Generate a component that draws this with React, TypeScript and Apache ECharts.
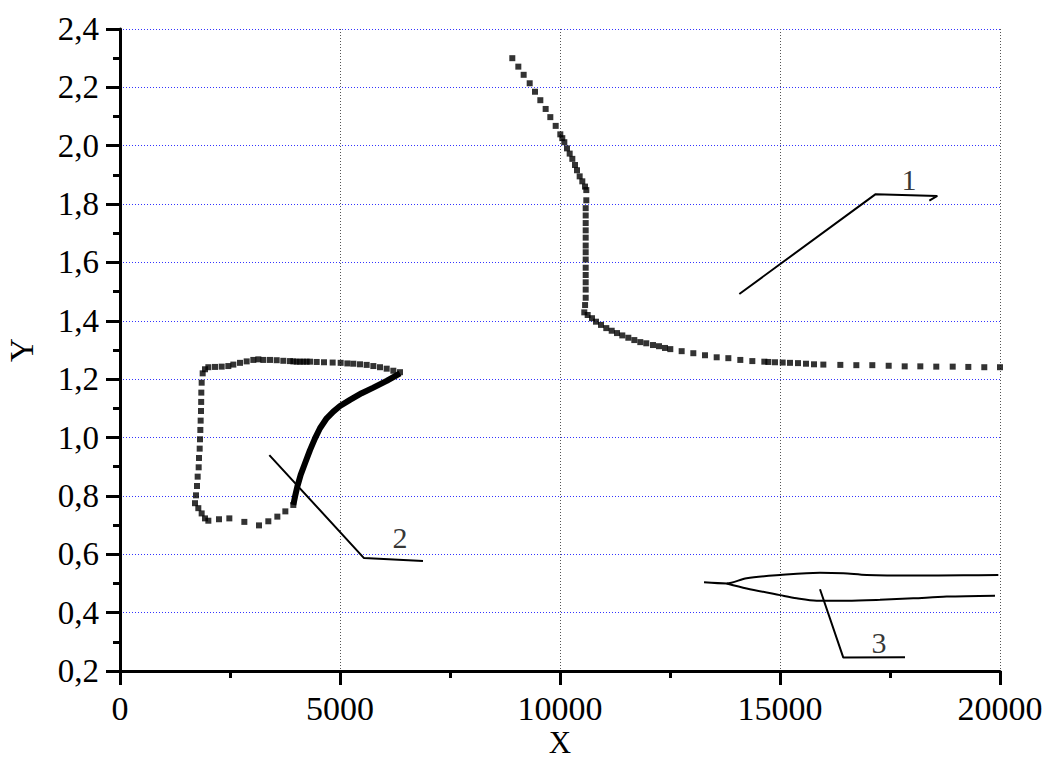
import React, { useEffect, useRef } from "react";
import * as echarts from "echarts";

// Curve 1 (dotted squares)
const curve1X = [8916, 9053, 9174, 9311, 9432, 9553, 9674, 9780, 9902, 10007, 10052, 10098, 10159, 10220, 10280, 10341, 10386, 10447, 10507, 10568, 10598, 10598, 10584, 10584, 10584, 10584, 10584, 10584, 10584, 10584, 10584, 10584, 10584, 10584, 10584, 10570, 10552, 10629, 10727, 10818, 10932, 11052, 11175, 11295, 11416, 11553, 11689, 11825, 11961, 12114, 12250, 12386, 12507, 12765, 13030, 13295, 13561, 13826, 14098, 14371, 14644, 14735, 14886, 15061, 15227, 15409, 15591, 15773, 15985, 16371, 16735, 17098, 17470, 17834, 18189, 18552, 18925, 19280, 19643, 20000];
const curve1Y = [2.30, 2.271, 2.243, 2.214, 2.185, 2.156, 2.126, 2.098, 2.068, 2.039, 2.026, 2.012, 1.991, 1.973, 1.955, 1.934, 1.916, 1.895, 1.878, 1.860, 1.848, 1.813, 1.786, 1.761, 1.735, 1.710, 1.685, 1.658, 1.635, 1.610, 1.582, 1.557, 1.532, 1.507, 1.479, 1.454, 1.429, 1.420, 1.409, 1.397, 1.386, 1.375, 1.366, 1.358, 1.350, 1.342, 1.334, 1.327, 1.323, 1.317, 1.313, 1.307, 1.303, 1.296, 1.289, 1.282, 1.275, 1.272, 1.266, 1.262, 1.260, 1.259, 1.258, 1.257, 1.256, 1.255, 1.253, 1.251, 1.250, 1.249, 1.248, 1.248, 1.246, 1.244, 1.244, 1.243, 1.243, 1.242, 1.241, 1.241];

// Curve 2 (dotted loop)
const curve2X = [6364, 6212, 6061, 5909, 5758, 5606, 5455, 5303, 5167, 5015, 4833, 4636, 4470, 4318, 4240, 4167, 4090, 4015, 3940, 3864, 3712, 3561, 3409, 3258, 3144, 3030, 2879, 2727, 2576, 2462, 2311, 2159, 2008, 1932, 1879, 1856, 1848, 1845, 1841, 1833, 1826, 1818, 1811, 1795, 1788, 1765, 1750, 1727, 1705, 1780, 1856, 1932, 2008, 2250, 2485, 2826, 3159, 3371, 3576, 3758, 3939];
const curve2Y = [1.224, 1.229, 1.236, 1.241, 1.245, 1.249, 1.251, 1.253, 1.254, 1.256, 1.257, 1.258, 1.259, 1.260, 1.260, 1.260, 1.260, 1.260, 1.261, 1.262, 1.263, 1.265, 1.266, 1.266, 1.268, 1.266, 1.261, 1.256, 1.250, 1.245, 1.243, 1.242, 1.241, 1.234, 1.220, 1.188, 1.154, 1.122, 1.091, 1.058, 1.026, 0.994, 0.962, 0.930, 0.898, 0.866, 0.834, 0.802, 0.775, 0.758, 0.740, 0.723, 0.715, 0.720, 0.723, 0.711, 0.699, 0.713, 0.729, 0.747, 0.769];
// Curve 2 (dense, thick part)
const curve2bX = [3939, 3977, 4030, 4106, 4205, 4318, 4432, 4545, 4697, 4848, 5000, 5227, 5492, 5758, 6061, 6364];
const curve2bY = [0.769, 0.797, 0.832, 0.872, 0.912, 0.957, 0.997, 1.032, 1.066, 1.089, 1.108, 1.129, 1.152, 1.171, 1.194, 1.220];

// Curve 3 (two thin lines)
const curve3UpperX = [13273, 13788, 14242, 15000, 15909, 16439, 16970, 18030, 19167, 19962];
const curve3UpperY = [0.504, 0.500, 0.518, 0.529, 0.537, 0.535, 0.529, 0.527, 0.528, 0.529];
const curve3LowerX = [13788, 14242, 15000, 15379, 15833, 16515, 17273, 18030, 18788, 19886];
const curve3LowerY = [0.500, 0.483, 0.460, 0.449, 0.441, 0.441, 0.444, 0.449, 0.455, 0.458];

// Leader lines and labels
const leader1X = [14076, 17174, 18575, 18394];
const leader1Y = [1.492, 1.834, 1.828, 1.812];
const leader2X = [3394, 5545, 6886];
const leader2Y = [0.940, 0.587, 0.577];
const leader3X = [15909, 16439, 17841];
const leader3Y = [0.480, 0.246, 0.247];
const labelNames = ["1", "2", "3"];
const labelX = [17932, 6364, 17250];
const labelY = [1.883, 0.659, 0.299];

const xTicks = { min: 0, max: 20000, interval: 5000 };
const yTicks = { min: 0.2, max: 2.4, interval: 0.2 };

const zip = (xs: number[], ys: number[]) => xs.map((x, i) => [x, ys[i]]);

const FONT = "'Liberation Serif', 'Times New Roman', serif";

export default function App() {
  const ref = useRef<HTMLDivElement>(null);
  useEffect(() => {
    if (!ref.current) return;
    const chart = echarts.init(ref.current, undefined, { renderer: "svg" });
    const lineSeries = (data: number[][], width: number) => ({
      type: "line",
      data,
      showSymbol: false,
      symbol: "none",
      lineStyle: { color: "#000", width },
      silent: true,
      z: 3,
    });
    chart.setOption({
      animation: false,
      backgroundColor: "#fff",
      grid: { left: 120, top: 29, right: 46, bottom: 90, containLabel: false, outerBoundsMode: "none" },
      xAxis: {
        type: "value",
        min: xTicks.min,
        max: xTicks.max,
        interval: xTicks.interval,
        name: "X",
        nameLocation: "middle",
        nameGap: 56,
        nameMoveOverlap: false,
        nameTextStyle: { fontFamily: FONT, fontSize: 31, color: "#000", lineHeight: 31 },
        axisLine: { onZero: false, lineStyle: { color: "#000", width: 3 } },
        axisTick: { show: true, inside: false, length: 14, lineStyle: { color: "#000", width: 3 } },
        minorTick: { show: true, splitNumber: 2, length: 7, lineStyle: { color: "#000", width: 3 } },
        axisLabel: {
          fontFamily: FONT,
          fontSize: 34,
          color: "#000",
          margin: 20,
          formatter: (v: number) => String(v),
        },
        splitLine: { show: true, lineStyle: { color: "#555", width: 1, type: [1, 2] } },
      },
      yAxis: {
        type: "value",
        min: yTicks.min,
        max: yTicks.max,
        interval: yTicks.interval,
        name: "Y",
        nameLocation: "middle",
        nameGap: 82,
        nameMoveOverlap: false,
        nameRotate: 90,
        nameTextStyle: { fontFamily: FONT, fontSize: 33, color: "#000" },
        axisLine: { show: true, onZero: false, lineStyle: { color: "#000", width: 3 } },
        axisTick: { show: true, inside: false, length: 14, lineStyle: { color: "#000", width: 3 } },
        minorTick: { show: true, splitNumber: 2, length: 7, lineStyle: { color: "#000", width: 3 } },
        axisLabel: {
          fontFamily: FONT,
          fontSize: 33,
          color: "#000",
          margin: 21,
          formatter: (v: number) => v.toFixed(1).replace(".", ","),
        },
        splitLine: { show: true, lineStyle: { color: "#3333ff", width: 1, type: [1, 2] } },
      },
      series: [
        {
          type: "scatter",
          data: zip(curve1X, curve1Y),
          symbol: "rect",
          symbolSize: 6,
          itemStyle: { color: "#000" },
          silent: true,
          z: 3,
        },
        {
          type: "scatter",
          data: zip(curve2X, curve2Y),
          symbol: "rect",
          symbolSize: 6,
          itemStyle: { color: "#000" },
          silent: true,
          z: 3,
        },
        lineSeries(zip(curve2bX, curve2bY), 6),
        { ...lineSeries(zip(curve3UpperX, curve3UpperY), 2), smooth: 0.3 },
        { ...lineSeries(zip(curve3LowerX, curve3LowerY), 2), smooth: 0.3 },
        lineSeries(zip(leader1X, leader1Y), 2),
        lineSeries(zip(leader2X, leader2Y), 2),
        lineSeries(zip(leader3X, leader3Y), 2),
        {
          type: "scatter",
          data: labelNames.map((n, i) => ({ name: n, value: [labelX[i], labelY[i]] })),
          symbolSize: 0,
          silent: true,
          label: {
            show: true,
            position: "inside",
            formatter: (p: any) => p.name,
            fontFamily: FONT,
            fontSize: 30,
            color: "#000",
          },
          z: 4,
        },
      ],
    });
    return () => chart.dispose();
  }, []);
  return <div ref={ref} style={{ width: 1046, height: 761, position: "absolute", left: 0, top: 0 }} />;
}
